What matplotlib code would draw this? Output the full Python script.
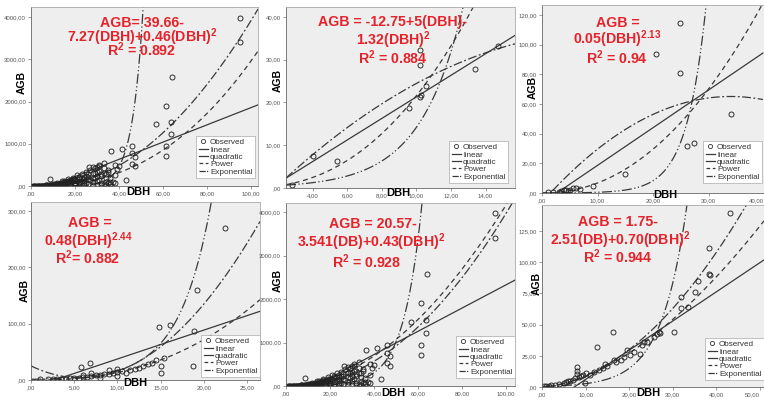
import matplotlib
matplotlib.use("Agg")
import matplotlib.pyplot as plt
import numpy as np
from matplotlib.lines import Line2D

plt.rcParams['font.family'] = ['Liberation Sans', 'DejaVu Sans']
plt.rcParams['mathtext.fontset'] = 'custom'
plt.rcParams['mathtext.rm'] = 'Liberation Sans:bold'
plt.rcParams['mathtext.bf'] = 'Liberation Sans:bold'
plt.rcParams['mathtext.default'] = 'bf'

W, H = 764, 401
RED = '#e5232b'

# ---- observed trees (DBH, AGB) ----
trees_all = [  # panels 1 and 5 show the same data set
    (95, 3970), (95, 3410), (64, 2580), (61.5, 1900), (63.5, 1515), (57, 1470),
    (63.5, 1220), (61.5, 950), (61.5, 712), (36.5, 830), (41.5, 870), (46, 945),
    (46, 770), (47.5, 690), (46, 530), (47.5, 470), (43, 150), (37.5, 95),
    (36, 90), (34, 295), (33, 550), (31, 470), (29, 420), (26.5, 450), (40, 480),
    (39, 410), (38, 500), (35, 340), (8.5, 175),
    (1, 0.5), (1.5, 1), (2, 1), (2.5, 2), (3, 2), (3.5, 3), (4, 4), (4.5, 5),
    (5, 6), (5.5, 8), (6, 9), (6.5, 11), (7, 13), (7.5, 15), (8, 18), (8.5, 20),
    (9, 24), (9.5, 27), (10, 30), (10.5, 34), (11, 38), (11.5, 42), (12, 48),
    (12.5, 52), (13, 58), (13.5, 62), (14, 70), (14.5, 75), (15, 80), (15.5, 86),
    (16, 92), (16.5, 98), (17, 105), (17.5, 112), (18, 120), (18.5, 125), (19, 135),
    (19.5, 140), (20, 150), (21, 165), (22, 180), (23, 200), (24, 215), (25, 235),
    (12, 10), (14, 25), (16, 40), (18, 60), (20, 80), (22, 100), (24, 130),
    (26, 160), (28, 200), (30, 240), (32, 280), (15, 120), (17, 160), (19, 200),
    (21, 250), (23, 290), (25, 330), (27, 380), (29, 300), (31, 350), (33, 420),
    (35, 380), (20, 30), (24, 60), (28, 90), (30, 120), (32, 60), (34, 90),
    (36, 180), (38, 250), (35, 70), (33, 40), (22, 40), (26, 280), (28, 440),
    (30, 460), (31, 500),
    (3, 5), (5, 10), (6, 3), (7, 20), (8, 8), (9, 5), (10, 50), (11, 20), (12, 70),
    (13, 40), (14, 110), (15, 30), (16, 60), (17, 130), (18, 90), (19, 170),
    (20, 60), (21, 120), (22, 220), (23, 110), (24, 170), (25, 80), (26, 220),
    (27, 140), (28, 300), (29, 180), (30, 330), (31, 150), (32, 230), (33, 300),
    (34, 200), (18, 10), (20, 15), (22, 10), (24, 20), (26, 40), (28, 30),
    (30, 20), (32, 15), (34, 30), (36, 50), (38, 70),
]
trees_p2 = [(2.8, 0.8), (4.0, 7.5), (5.4, 6.4), (9.55, 18.8), (10.2, 21.3),
            (10.25, 21.8), (10.55, 23.8), (10.2, 28.7), (10.2, 32.2),
            (13.4, 27.7), (14.7, 33.1)]
trees_p3 = [(24.9, 114.6), (20.5, 94), (24.9, 80.9), (34.1, 53), (26.2, 31.7),
            (27.3, 33.9), (14.9, 12.6), (9.2, 4.7), (6.2, 3.6), (6.8, 3.0),
            (5.0, 2.0), (4.6, 1.5), (4.0, 1.8), (3.0, 1.0), (2.0, 0.8), (1.0, 0.5),
            (5.5, 3.5), (4.3, 2.2), (3.5, 1.2)]
trees_p4 = [(5.8, 23.7), (6.8, 29.6), (14.8, 94.7), (16.1, 97), (19.2, 160),
            (22.4, 270), (18.9, 87), (18.8, 25.4), (15.1, 25.4), (15.1, 13),
            (15.4, 39), (1, 1), (2, 1), (2.5, 2), (3, 2), (3.5, 1), (4, 2),
            (4.5, 3), (5, 3), (5.5, 4), (6, 5), (6.5, 6), (7, 7), (7.5, 8), (8, 9),
            (8.5, 10), (9, 11), (9.5, 12), (10, 14), (10, 20), (10, 7), (10.5, 16),
            (11, 13), (11.5, 18), (12, 20), (12.5, 22), (13, 25), (13.5, 28),
            (14, 30), (14.5, 35), (9, 18), (8, 4), (7, 12), (6, 8)]
trees_p6 = [(8, 16), (8, 13), (8, 10.7), (9.9, 3.2), (16.3, 44.2), (12.7, 32.1),
            (19.5, 29.4), (20.2, 25.4), (22.5, 26.2), (22.9, 33.5), (23.3, 36.1),
            (18.7, 24.1), (16.4, 21.4), (14.4, 18.7), (25.6, 40.1), (26.3, 42.8),
            (26.9, 44.2), (30.3, 44.2), (31.8, 72.3), (31.8, 62.9), (33.4, 63.7),
            (35.1, 76.3), (35.7, 84.9), (38.3, 90.5), (38.5, 89.7), (38.3, 111),
            (43, 139.7), (0.5, 1), (1, 1), (1.5, 1), (2, 1.5), (3, 2), (4, 2.5),
            (5, 3), (5.5, 4), (6, 4.5), (6.5, 5), (7, 6), (7.5, 7), (8.5, 8),
            (9, 9), (9.5, 10), (10, 11), (11, 10), (12, 12), (13, 14), (14, 15),
            (15, 17), (17, 20), (18, 22), (21, 28), (24, 36), (27, 43)]
observed = [trees_all, trees_p2, trees_p3, trees_p4, trees_all, trees_p6]

# ---- fitted curves per panel ----
linear_coef = [(-185, 20.4), (-3.9, 2.52), (-6.8, 2.54), (-14, 5.13), (-345, 26.7), (-17.3, 2.34)]
quad_coef = [(39.66, -7.27, 0.46), (-7.29, 4.16, -0.0987), (-6.2, 4.19, -0.0616),
             (25.0, -7.39, 0.644), (20.57, -3.541, 0.43), (0.0, 0.3, 0.06)]
power_coef = [(0.039, 2.44), (0.092, 2.37), (0.05, 2.13), (0.048, 2.44), (0.5, 1.96), (0.167, 1.70)]
expo_coef = [(0.145, 0.2016), (0.247, 0.405), (0.0277, 0.285), (1.13, 0.27), (2.52, 0.120), (0.48, 0.172)]

equations = [
    ["AGB= 39.66-", r"7.27(DBH)+0.46(DBH)$^{2}$", r"R$^{2}$ = 0.892"],
    ["AGB = -12.75+5(DBH)-", r"1.32(DBH)$^{2}$", r"R$^{2}$ = 0.884"],
    ["AGB =", r"0.05(DBH)$^{2.13}$", r"R$^{2}$ = 0.94"],
    ["AGB =", r"0.48(DBH)$^{2.44}$", r"R$^{2}$= 0.882"],
    ["AGB = 20.57-", r"3.541(DB)+0.43(DBH)$^{2}$", r"R$^{2}$ = 0.928"],
    ["AGB = 1.75-", r"2.51(DB)+0.70(DBH)$^{2}$", r"R$^{2}$ = 0.944"],
]
x_ticks = [np.arange(0, 101, 20), np.arange(4, 15, 2), np.arange(0, 41, 10),
           np.arange(0, 26, 5), np.arange(0, 101, 20), np.arange(0, 51, 10)]
y_ticks = [np.arange(0, 4001, 1000), np.arange(0, 41, 10), np.arange(0, 121, 20),
           np.arange(0, 301, 100), np.arange(0, 4001, 1000), np.arange(0, 126, 25)]
x_lims = [(0, 103.2), (2.46, 15.7), (0, 39.8), (0, 26.5), (0, 104.1), (0, 50.9)]
y_lims = [(0, 4237), (0, 42.3), (0, 126.7), (0, 316), (0, 4207), (0, 145.8)]

# ---- layout in pixels (left, top, right, bottom) ----
boxes = [(31, 7, 258, 186), (286, 7, 515, 188), (542, 5, 764, 193),
         (31, 202, 260, 380), (286, 203, 515, 386), (542, 205, 764, 387)]
eq_pos = [[(142, 23), (142, 37), (142, 50)], [(393, 22), (393, 40), (393, 58)],
          [(618, 23), (617, 39), (617, 58)], [(90, 223), (88, 241), (88, 258)],
          [(373, 224), (371, 242), (367, 262)], [(618, 222), (620, 240), (618, 257)]]
agb_pos = [(22, 82), (278, 80), (533, 87), (25, 290), (278, 280), (537, 283)]
dbh_pos = [(138, 192), (398, 193), (665, 195), (135, 383), (393, 393), (648, 393)]
leg_pos = [(255, 178), (508, 183), (762, 183), (260, 377), (515, 378), (764, 380)]


def fxy(x, y):
    return x / W, 1 - y / H


def fmt(v, pos=None):
    s = f"{v:.2f}".replace('.', ',')
    return s[1:] if s.startswith('0,') else s


styles = {
    'linear': dict(ls='-', lw=0.9),
    'quadratic': dict(ls=(0, (7, 2, 1.5, 2)), lw=0.9),
    'power': dict(ls=(0, (4, 3)), lw=0.9),
    'expo': dict(ls=(0, (8, 2, 1, 2, 1, 2)), lw=0.9),
}
line_col = '#3a3a3a'

fig = plt.figure(figsize=(W / 100, H / 100), dpi=100)

for i in range(6):
    l, t, r, b = boxes[i]
    ax = fig.add_axes([l / W, 1 - b / H, (r - l) / W, (b - t) / H])
    ax.set_facecolor('#eeeeee')
    x0, x1 = x_lims[i]
    xs = np.linspace(x0, x1, 400)

    a, k = linear_coef[i]
    ax.plot(xs, a + k * xs, color=line_col, **styles['linear'])
    c0, c1, c2 = quad_coef[i]
    ax.plot(xs, c0 + c1 * xs + c2 * xs ** 2, color=line_col, **styles['quadratic'])
    a, k = power_coef[i]
    ax.plot(xs, a * xs ** k, color=line_col, **styles['power'])
    a, k = expo_coef[i]
    ax.plot(xs, a * np.exp(k * xs), color=line_col, **styles['expo'])

    pts = np.array(observed[i])
    ax.plot(pts[:, 0], pts[:, 1], 'o', ms=3.6, mfc='none', mec='#222222', mew=0.65)

    ax.set_xlim(x_lims[i])
    ax.set_ylim(y_lims[i])
    ax.set_xticks(x_ticks[i])
    ax.set_yticks(y_ticks[i])
    ax.xaxis.set_major_formatter(plt.FuncFormatter(fmt))
    ax.yaxis.set_major_formatter(plt.FuncFormatter(fmt))
    ax.tick_params(labelsize=4.3, labelcolor='#555555', length=2, width=0.5,
                   color='#777777', pad=1.5)
    for side, sp in ax.spines.items():
        sp.set_linewidth(0.6)
        sp.set_color('#666666' if side in ('left', 'bottom') else '#aaaaaa')
    if r >= 762:
        # keep the last tick label inside the picture
        fig.canvas.draw()
        ax.get_xticklabels()[-1].set_ha('right')

    handles = [
        Line2D([], [], marker='o', ls='none', ms=3, mfc='none', mec='#333333', mew=0.6),
        Line2D([], [], color=line_col, ls='-', lw=0.9),
        Line2D([], [], color=line_col, ls='-', lw=0.9),
        Line2D([], [], color=line_col, ls=(0, (3, 2)), lw=0.9),
        Line2D([], [], color=line_col, ls=(0, (5, 1, 1, 1)), lw=0.9),
    ]
    leg = ax.legend(handles, ['Observed', 'linear', 'quadratic', 'Power', 'Exponential'],
                    loc='lower right', bbox_to_anchor=fxy(*leg_pos[i]),
                    bbox_transform=fig.transFigure, fontsize=5.9, frameon=True,
                    fancybox=False, edgecolor='#aaaaaa', framealpha=1,
                    handlelength=1.1, handletextpad=0.3, labelspacing=-0.05,
                    borderpad=0.3, borderaxespad=0)
    leg.get_frame().set_linewidth(0.5)
    for txt in leg.get_texts():
        txt.set_color('#333333')

    for line, (px, py) in zip(equations[i], eq_pos[i]):
        fig.text(*fxy(px, py), line, color=RED, fontsize=10.2, fontweight='bold',
                 ha='center', va='center')
    fig.text(*fxy(*agb_pos[i]), 'AGB', fontsize=7.5, fontweight='bold',
             rotation=90, ha='center', va='center')
    fig.text(*fxy(*dbh_pos[i]), 'DBH', fontsize=8, fontweight='bold',
             ha='center', va='center')

fig.savefig('out.png', dpi=100)
